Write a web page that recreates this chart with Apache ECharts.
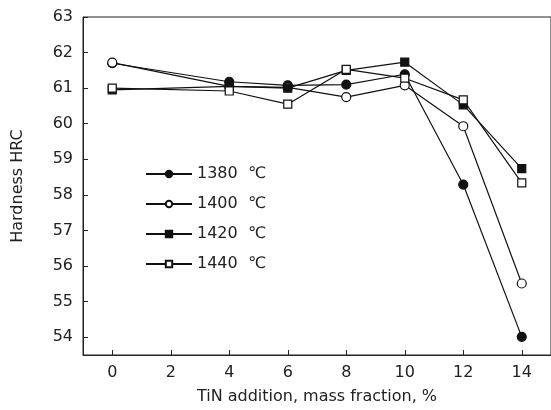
<!DOCTYPE html>
<html><head><meta charset="utf-8">
<script src="https://cdn.jsdelivr.net/npm/echarts@6/dist/echarts.min.js"></script>
<style>html,body{margin:0;padding:0;background:#fff}#c{width:551px;height:410px}</style>
</head><body><div id="c"></div>
<script>
const tinAddition = [0, 4, 6, 8, 10, 12, 14];
const xTicks = [0, 2, 4, 6, 8, 10, 12, 14];
const yTicks = [54, 55, 56, 57, 58, 59, 60, 61, 62, 63];
const hrc1380 = [61.70, 61.18, 61.08, 61.10, 61.39, 58.29, 54.01];
const hrc1400 = [61.72, 61.05, 61.02, 60.75, 61.08, 59.93, 55.51];
const hrc1420 = [60.95, 61.05, 61.00, 61.50, 61.73, 60.53, 58.74];
const hrc1440 = [61.00, 60.92, 60.55, 61.53, 61.28, 60.67, 58.34];
const seriesNames = ['1380  ℃', '1400  ℃', '1420  ℃', '1440  ℃'];

const font = 'DejaVu Sans, sans-serif';
function mk(name, vals, symbol, filled, size) {
  return {
    name: name, type: 'line',
    data: tinAddition.map((x, i) => [x, vals[i]]),
    symbol: symbol, symbolSize: size, showAllSymbol: true,
    lineStyle: {color: '#111', width: 1.2},
    itemStyle: {color: filled ? '#111' : '#fff', borderColor: '#111', borderWidth: 1.2},
    emphasis: {disabled: true}
  };
}
const chart = echarts.init(document.getElementById('c'));
chart.setOption({
  animation: false,
  backgroundColor: '#fff',
  grid: {left: 83, right: -4, top: 17, bottom: 55, show: true, borderColor: '#222', borderWidth: 1},
  legend: {
    orient: 'vertical', left: 140, top: 161, itemGap: 14,
    itemWidth: 46, itemHeight: 8,
    textStyle: {fontFamily: font, fontSize: 16, color: '#222'},
    data: seriesNames
  },
  xAxis: {
    type: 'value', min: -1, max: 15,
    name: 'TiN addition, mass fraction, %', nameLocation: 'middle', nameGap: 34,
    nameTextStyle: {fontFamily: font, fontSize: 16, color: '#222'},
    axisLine: {onZero: false, lineStyle: {color: '#222', width: 1}},
    axisTick: {inside: true, length: 5, customValues: xTicks, lineStyle: {color: '#222'}},
    axisLabel: {customValues: xTicks, fontFamily: font, fontSize: 16, color: '#222', margin: 10},
    splitLine: {show: false}
  },
  yAxis: {
    type: 'value', min: 53.5, max: 63,
    name: 'Hardness HRC', nameLocation: 'middle', nameGap: 57, nameRotate: 90,
    nameTextStyle: {fontFamily: font, fontSize: 16, color: '#222'},
    axisLine: {onZero: false, lineStyle: {color: '#222', width: 1}},
    axisTick: {inside: true, length: 5, customValues: yTicks, lineStyle: {color: '#222'}},
    axisLabel: {customValues: yTicks, fontFamily: font, fontSize: 16, color: '#222', margin: 10},
    splitLine: {show: false}
  },
  series: [
    mk(seriesNames[0], hrc1380, 'circle', true, 9),
    mk(seriesNames[1], hrc1400, 'circle', false, 9),
    mk(seriesNames[2], hrc1420, 'rect', true, 8),
    mk(seriesNames[3], hrc1440, 'rect', false, 8)
  ]
});
</script></body></html>
